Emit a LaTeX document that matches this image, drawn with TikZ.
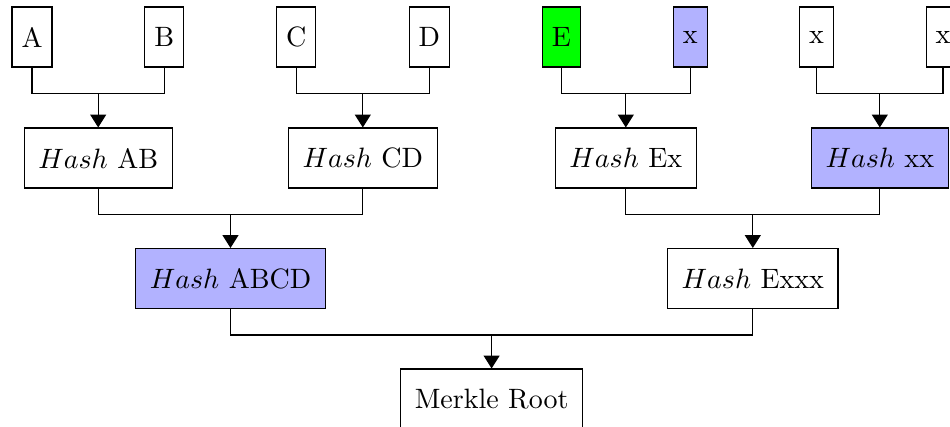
\documentclass[tikz,border=0pt]{standalone}
\usetikzlibrary{arrows.meta}
\begin{document}
\begin{tikzpicture}[x=0.35714pt,y=-0.35714pt,
  leaf/.style={draw, line width=0.4pt, minimum height=21.4pt, inner xsep=3.4pt, inner ysep=0pt},
  hashbox/.style={draw, line width=0.4pt, minimum height=21.4pt, inner xsep=5pt, inner ysep=0pt},
  link/.style={line width=0.4pt},
  arr/.style={link, -{Triangle[width=5.7pt,length=4.6pt]}}]
\useasboundingbox (0,0) rectangle (950,427);
\clip (0,0) rectangle (950,427);
% leaves
\node[leaf] (A) at (32,37) {A};
\node[leaf] (B) at (164.3,37) {B};
\node[leaf] (C) at (296.3,37) {C};
\node[leaf] (D) at (429.3,37) {D};
\node[leaf, fill=green] (E) at (561.3,37) {E};
\node[leaf, fill=blue!30] (x1) at (690.2,37) {x};
\node[leaf] (x2) at (816.5,37) {x};
\node[leaf] (x3) at (943,37) {x};
% level 2
\node[hashbox] (hAB) at (98.2,158) {$Hash$ AB};
\node[hashbox] (hCD) at (362.8,158) {$Hash$ CD};
\node[hashbox] (hEx) at (625.8,158) {$Hash$ Ex};
\node[hashbox, fill=blue!30] (hxx) at (879.8,158) {$Hash$ xx};
% level 3
\node[hashbox, fill=blue!30] (hABCD) at (230.5,278.5) {$Hash$ ABCD};
\node[hashbox] (hExxx) at (752.8,278.5) {$Hash$ Exxx};
% root
\node[hashbox] (root) at (491.6,399) {Merkle Root};
% junctions
\coordinate (j1) at (98.2,93.7);
\coordinate (j2) at (362.8,93.7);
\coordinate (j3) at (625.8,93.7);
\coordinate (j4) at (879.8,93.7);
\coordinate (j5) at (230.5,214.3);
\coordinate (j6) at (752.8,214.3);
\coordinate (j7) at (491.6,335);
% connectors
\draw[link] (A.south) |- (j1) -| (B.south);
\draw[arr] (j1) -- (hAB.north);
\draw[link] (C.south) |- (j2) -| (D.south);
\draw[arr] (j2) -- (hCD.north);
\draw[link] (E.south) |- (j3) -| (x1.south);
\draw[arr] (j3) -- (hEx.north);
\draw[link] (x2.south) |- (j4) -| (x3.south);
\draw[arr] (j4) -- (hxx.north);
\draw[link] (hAB.south) |- (j5) -| (hCD.south);
\draw[arr] (j5) -- (hABCD.north);
\draw[link] (hEx.south) |- (j6) -| (hxx.south);
\draw[arr] (j6) -- (hExxx.north);
\draw[link] (hABCD.south) |- (j7) -| (hExxx.south);
\draw[arr] (j7) -- (root.north);
\end{tikzpicture}
\end{document}
